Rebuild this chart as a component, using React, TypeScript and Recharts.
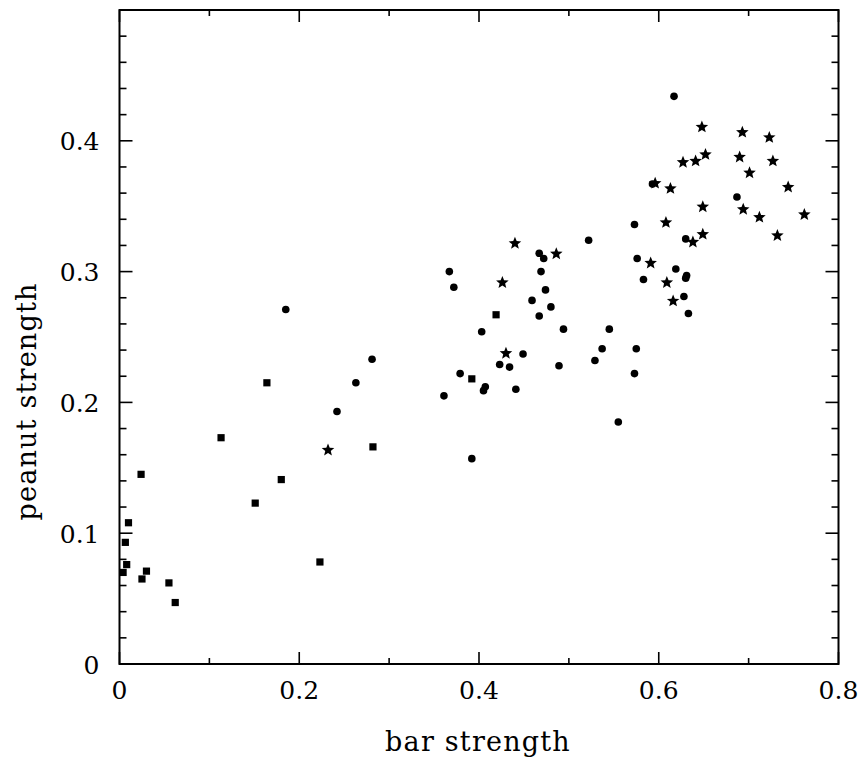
import React from "react";
import { ReferenceArea, Scatter, ScatterChart, XAxis, YAxis } from "recharts";

// filled squares
const squareX = [0.164, 0.113, 0.024, 0.18, 0.151, 0.01, 0.0065, 0.008, 0.004, 0.03, 0.025, 0.055, 0.062, 0.223, 0.282, 0.419, 0.392];
const squareY = [0.215, 0.173, 0.145, 0.141, 0.123, 0.108, 0.093, 0.076, 0.07, 0.071, 0.065, 0.062, 0.047, 0.078, 0.166, 0.267, 0.218];

// filled circles
const circleX = [
  0.185, 0.281, 0.263, 0.242, 0.467, 0.472, 0.367, 0.469, 0.372, 0.474, 0.459,
  0.48, 0.467, 0.403, 0.494, 0.449, 0.423, 0.434, 0.489, 0.379, 0.407, 0.405,
  0.361, 0.441, 0.392, 0.617, 0.593, 0.687, 0.573, 0.522, 0.63, 0.576, 0.619,
  0.631, 0.63, 0.583, 0.628, 0.633, 0.545, 0.537, 0.575, 0.529, 0.573, 0.555,
];
const circleY = [
  0.271, 0.233, 0.215, 0.193, 0.314, 0.31, 0.3, 0.3, 0.288, 0.286, 0.278,
  0.273, 0.266, 0.254, 0.256, 0.237, 0.229, 0.227, 0.228, 0.222, 0.212, 0.209,
  0.205, 0.21, 0.157, 0.434, 0.367, 0.357, 0.336, 0.324, 0.325, 0.31, 0.302,
  0.297, 0.295, 0.294, 0.281, 0.268, 0.256, 0.241, 0.241, 0.232, 0.222, 0.185,
];

// stars
const starX = [
  0.232, 0.44, 0.486, 0.426, 0.43, 0.648, 0.693, 0.723, 0.652, 0.69, 0.641,
  0.627, 0.727, 0.701, 0.596, 0.613, 0.744, 0.649, 0.694, 0.712, 0.762, 0.608,
  0.732, 0.638, 0.649, 0.591, 0.609, 0.616,
];
const starY = [
  0.164, 0.322, 0.314, 0.292, 0.238, 0.411, 0.407, 0.403, 0.39, 0.388, 0.385,
  0.384, 0.385, 0.376, 0.368, 0.364, 0.365, 0.35, 0.348, 0.342, 0.344, 0.338,
  0.328, 0.323, 0.329, 0.307, 0.292, 0.278,
];

const xTicks = [0, 0.1, 0.2, 0.3, 0.4, 0.5, 0.6, 0.7, 0.8];
const xTickLabels = ["0", "0.2", "0.4", "0.6", "0.8"];
const yTicks = [
  0, 0.02, 0.04, 0.06, 0.08, 0.1, 0.12, 0.14, 0.16, 0.18, 0.2, 0.22, 0.24,
  0.26, 0.28, 0.3, 0.32, 0.34, 0.36, 0.38, 0.4, 0.42, 0.44, 0.46, 0.48, 0.5,
];
const yTickLabels = ["0", "0.1", "0.2", "0.3", "0.4"];

const toPoints = (xs: number[], ys: number[]) => xs.map((x, i) => ({ x, y: ys[i] }));
const squares = toPoints(squareX, squareY);
const circles = toPoints(circleX, circleY);
const stars = toPoints(starX, starY);

const PLOT_TOP = 10;
const PLOT_RIGHT = 838.5;
const FONT = "'DejaVu Serif', serif";

const fmt = (v: number) => String(+v.toFixed(2));
const isTenth = (v: number) => Math.abs(v * 10 - Math.round(v * 10)) < 1e-6;

function XTick(props: any) {
  const { x, y, payload } = props;
  const label = fmt(payload.value);
  const major = xTickLabels.includes(label);
  const len = major ? 12 : 6;
  return (
    <g>
      <line x1={x} x2={x} y1={y} y2={y - len} stroke="#000" strokeWidth={1.6} />
      <line x1={x} x2={x} y1={PLOT_TOP} y2={PLOT_TOP + len} stroke="#000" strokeWidth={1.6} />
      {major && (
        <text x={x} y={y + 35} textAnchor="middle" fontSize={25} fontFamily={FONT} fill="#000">
          {label}
        </text>
      )}
    </g>
  );
}

function YTick(props: any) {
  const { x, y, payload } = props;
  const label = fmt(payload.value);
  const major = isTenth(payload.value);
  const len = major ? 13 : 7;
  return (
    <g>
      <line x1={x} x2={x + len} y1={y} y2={y} stroke="#000" strokeWidth={1.6} />
      <line x1={PLOT_RIGHT} x2={PLOT_RIGHT - len} y1={y} y2={y} stroke="#000" strokeWidth={1.6} />
      {yTickLabels.includes(label) && (
        <text x={x - 20} y={y + 9.5} textAnchor="end" fontSize={25} fontFamily={FONT} fill="#000">
          {label}
        </text>
      )}
    </g>
  );
}

const squareShape = (p: any) => (
  <rect x={p.cx - 3.6} y={p.cy - 3.6} width={7.2} height={7.2} fill="#000" />
);

const circleShape = (p: any) => <circle cx={p.cx} cy={p.cy} r={3.8} fill="#000" />;

const starShape = (p: any) => {
  const R = 6.6;
  const r = 2.9;
  const pts: string[] = [];
  for (let i = 0; i < 10; i++) {
    const a = -Math.PI / 2 + (i * Math.PI) / 5;
    const rad = i % 2 === 0 ? R : r;
    pts.push(`${p.cx + rad * Math.cos(a)},${p.cy + 0.6 + rad * Math.sin(a)}`);
  }
  return <polygon points={pts.join(" ")} fill="#000" />;
};

export default function App() {
  return (
    <div style={{ position: "absolute", left: 0, top: 0, width: 862, height: 759, background: "#fff" }}>
      <ScatterChart
        width={862}
        height={759}
        margin={{ top: PLOT_TOP, right: 862 - PLOT_RIGHT, bottom: 0, left: 0 }}
      >
        <XAxis
          type="number"
          dataKey="x"
          domain={[0, 0.8]}
          ticks={xTicks}
          interval={0}
          height={95}
          axisLine={false}
          tickLine={false}
          tickSize={0}
          tickMargin={0}
          tick={(p: any) => <XTick {...p} />}
          label={{
            content: () => (
              <text x={478} y={751} textAnchor="middle" fontSize={27} letterSpacing={1.2} fontFamily={FONT} fill="#000">
                bar strength
              </text>
            ),
          }}
        />
        <YAxis
          type="number"
          dataKey="y"
          domain={[0, 0.5]}
          ticks={yTicks}
          interval={0}
          width={119.5}
          axisLine={false}
          tickLine={false}
          tickSize={0}
          tickMargin={0}
          tick={(p: any) => <YTick {...p} />}
          label={{
            content: () => (
              <text
                x={36}
                y={401.5}
                transform="rotate(-90 36 401.5)"
                textAnchor="middle"
                fontSize={27}
                letterSpacing={1.2}
                fontFamily={FONT}
                fill="#000"
              >
                peanut strength
              </text>
            ),
          }}
        />
        <ReferenceArea x1={0} x2={0.8} y1={0} y2={0.5} fill="none" stroke="#000" strokeWidth={2} ifOverflow="visible" />
        <Scatter data={squares} shape={squareShape} isAnimationActive={false} />
        <Scatter data={circles} shape={circleShape} isAnimationActive={false} />
        <Scatter data={stars} shape={starShape} isAnimationActive={false} />
      </ScatterChart>
    </div>
  );
}
